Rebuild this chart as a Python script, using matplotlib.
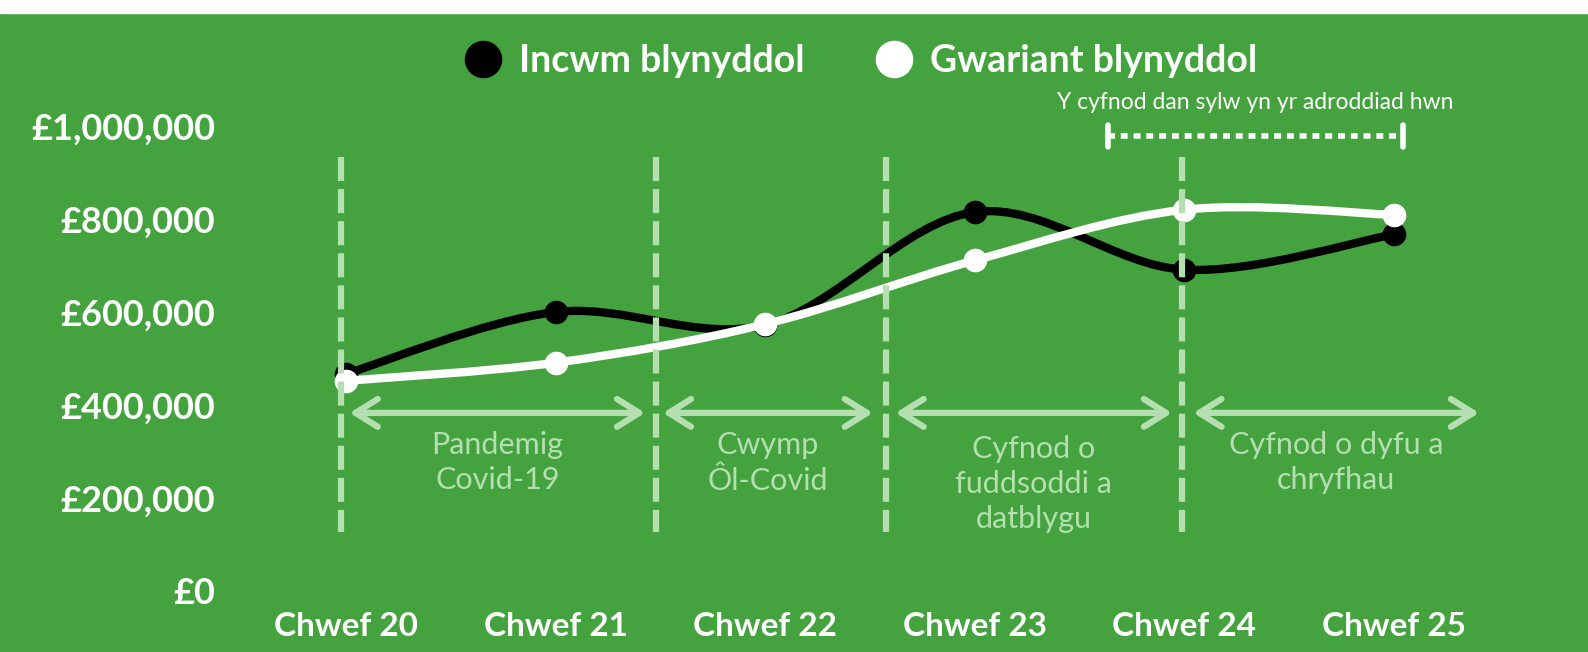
import matplotlib
matplotlib.use("Agg")
import matplotlib.pyplot as plt
import numpy as np
from matplotlib.lines import Line2D
from matplotlib.patches import Rectangle, PathPatch
from matplotlib.path import Path

plt.rcParams['font.family'] = ['Lato', 'DejaVu Sans']
plt.rcParams['lines.scale_dashes'] = False

green = (69 / 255, 163 / 255, 63 / 255)
pale = (181 / 255, 222 / 255, 177 / 255)

# Data
years = ['Chwef 20', 'Chwef 21', 'Chwef 22', 'Chwef 23', 'Chwef 24', 'Chwef 25']
income = [467000, 600000, 572000, 815000, 691000, 767000]
spending = [452000, 491000, 574000, 711000, 820000, 809000]
series_names = ['Incwm blynyddol', 'Gwariant blynyddol']
yticks = [0, 200000, 400000, 600000, 800000, 1000000]

# period markers (x in category units)
divider_x = [-0.024, 1.479, 2.576, 3.988]
periods = [(0.017, 1.427, 'Pandemig\nCovid-19'),
           (1.512, 2.514, 'Cwymp\nÔl-Covid'),
           (2.622, 3.941, 'Cyfnod o\nfuddsoddi a\ndatblygu'),
           (4.043, 5.406, 'Cyfnod o dyfu a\nchryfhau')]
report_span = (3.635, 5.043)
report_label = 'Y cyfnod dan sylw yn yr adroddiad hwn'


def smooth_path(xs, ys):
    # cubic bezier through the points (catmull-rom style handles)
    xs = np.asarray(xs, float)
    ys = np.asarray(ys, float)
    n = len(xs)
    verts = [(xs[0], ys[0])]
    codes = [Path.MOVETO]
    for i in range(n - 1):
        p0 = i - 1 if i > 0 else i
        p3 = i + 2 if i + 2 < n else i + 1
        c1 = (xs[i] + (xs[i + 1] - xs[p0]) / 6, ys[i] + (ys[i + 1] - ys[p0]) / 6)
        c2 = (xs[i + 1] - (xs[p3] - xs[i]) / 6, ys[i + 1] - (ys[p3] - ys[i]) / 6)
        verts += [c1, c2, (xs[i + 1], ys[i + 1])]
        codes += [Path.CURVE4] * 3
    return Path(verts, codes)


fig = plt.figure(figsize=(15.88, 6.52), dpi=100, facecolor=green)
fig.add_artist(Rectangle((0, 1 - 13 / 652), 1, 13 / 652, transform=fig.transFigure,
                         color='white', zorder=0))

ax = fig.add_axes([240 / 1588, 61 / 652, 1348 / 1588, 465 / 652])
ax.set_facecolor(green)
ax.patch.set_alpha(0)
ax.set_xlim(-0.506, 5.926)
ax.set_ylim(0, 1000000)
for s in ax.spines.values():
    s.set_visible(False)

x = np.arange(len(years))
ax.set_xticks(x)
ax.set_xticklabels(years)
ax.set_yticks(yticks)
ax.set_yticklabels(['£{:,}'.format(v) for v in yticks])
ax.tick_params(axis='y', length=0, pad=18, labelsize=26, labelcolor='white')
ax.tick_params(axis='x', length=0, pad=15, labelsize=24, labelcolor='white')
for lab in ax.get_xticklabels() + ax.get_yticklabels():
    lab.set_fontweight('bold')

# lines
ax.add_patch(PathPatch(smooth_path(x, income), fill=False, ec='black', lw=6, zorder=3))
ax.plot(x, income, 'o', color='black', markersize=16, zorder=4)
ax.add_patch(PathPatch(smooth_path(x, spending), fill=False, ec='white', lw=6, zorder=5))
ax.plot(x, spending, 'o', color='white', markersize=16, zorder=6)

# dashed dividers
for dx in divider_x:
    ax.plot([dx, dx], [933000, 127000], color=pale, lw=4.5, dashes=(17.3, 5.8),
            solid_capstyle='butt', dash_capstyle='butt', zorder=7)

# period arrows and labels
for x0, x1, txt in periods:
    ax.annotate('', xy=(x1, 383000), xytext=(x0, 383000),
                arrowprops=dict(arrowstyle='<->,head_length=0.8,head_width=0.5',
                                mutation_scale=20, lw=4.5, color=pale,
                                shrinkA=0, shrinkB=0, capstyle='round',
                                joinstyle='round'), zorder=2)
    nlines = txt.count('\n') + 1
    yc = 276000 if nlines == 2 else 230000
    ax.text((x0 + x1) / 2, yc, txt, ha='center', va='center', color=pale,
            fontsize=22, linespacing=1.32, zorder=2)

# report-period bracket
ax.plot(report_span, [978500, 978500], color='white', lw=4, dashes=(5, 4.2),
        dash_capstyle='butt', clip_on=False)
for bx in report_span:
    ax.plot([bx, bx], [955000, 1002000], color='white', lw=4,
            solid_capstyle='round', clip_on=False)
ax.text(sum(report_span) / 2, 1049500, report_label, ha='center', va='center',
        color='white', fontsize=16.5, clip_on=False)

# legend
handles = [Line2D([0], [0], marker='o', ls='none', markersize=26,
                  markerfacecolor=c, markeredgecolor=c) for c in ['black', 'white']]
fig.legend(handles, series_names, loc='center', bbox_to_anchor=(0.542, 0.906),
           ncol=2, frameon=False, handlelength=1.0, handletextpad=0.45,
           columnspacing=1.9, labelcolor='white',
           prop={'size': 27, 'weight': 'bold'})

fig.savefig('out.png', dpi=100, facecolor=green)
